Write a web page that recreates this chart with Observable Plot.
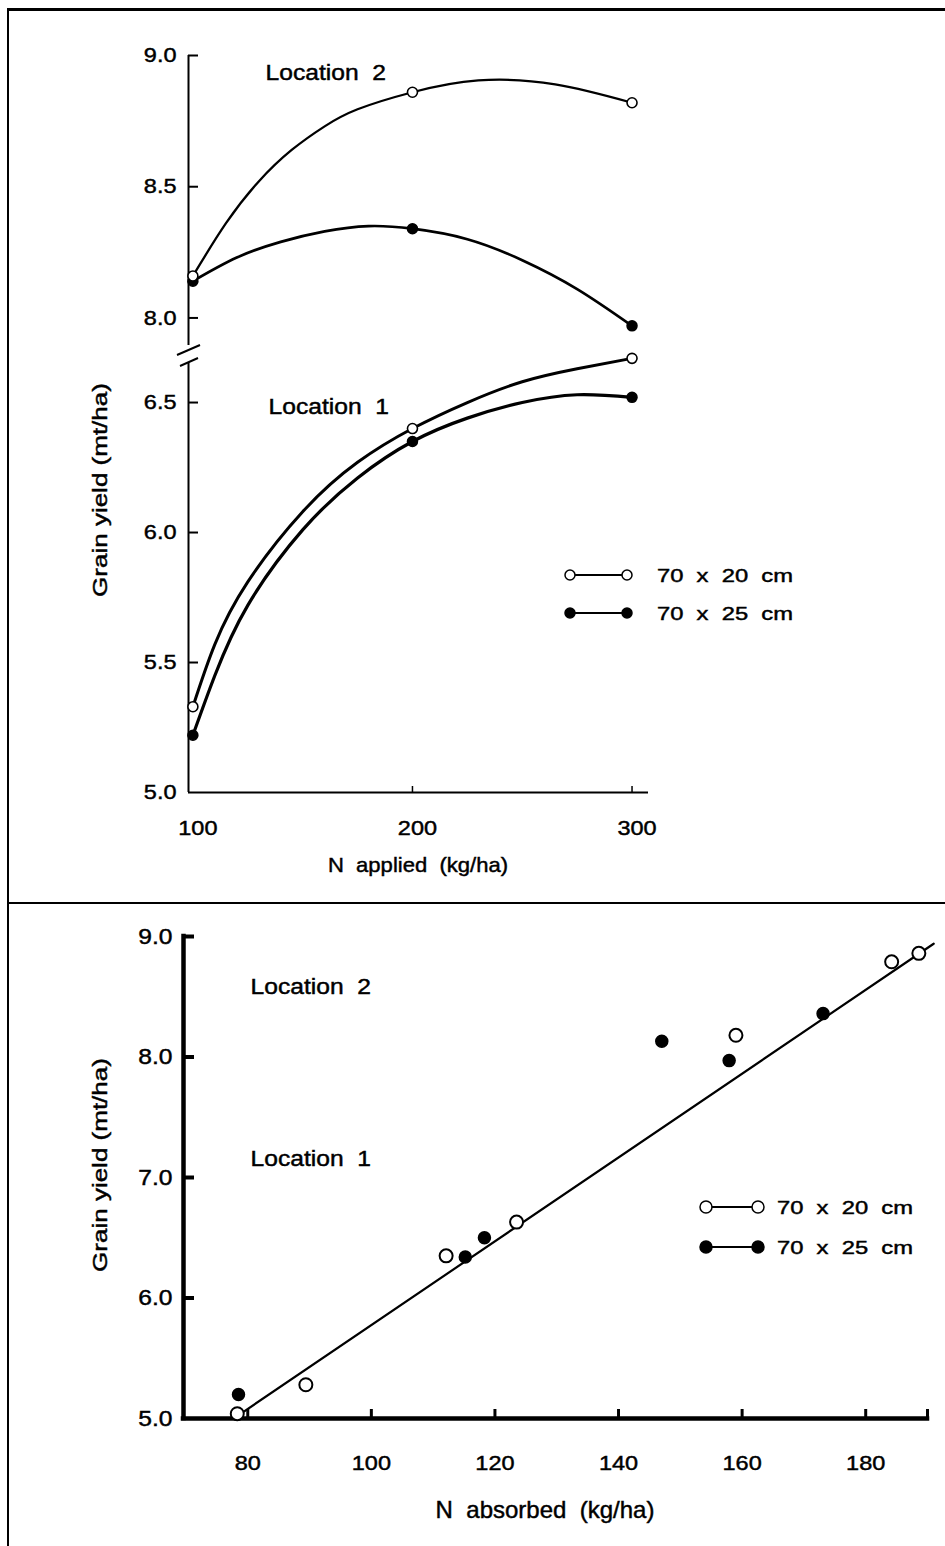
<!DOCTYPE html>
<html>
<head>
<meta charset="utf-8">
<script src="https://cdn.jsdelivr.net/npm/d3@7"></script>
<script src="https://cdn.jsdelivr.net/npm/@observablehq/plot@0.6"></script>
<style>
html,body{margin:0;padding:0;background:#fff;}
#root{position:relative;width:945px;height:1546px;overflow:hidden;background:#fff;font-family:"Liberation Sans",Arial,Helvetica,sans-serif;color:#000;}
.layer{position:absolute;left:0;top:0;}
.txt{position:absolute;white-space:pre;line-height:1;-webkit-text-stroke:0.45px #000;}
.hline{position:absolute;background:#000;}
</style>
</head>
<body>
<div id="root"></div>
<script>
// ---------- data ----------
// Top panel: N applied vs grain yield
const nApplied = [100, 200, 300];
const loc2Open = [8.16, 8.86, 8.82];     // Location 2, 70 x 20 cm
const loc2Filled = [8.14, 8.34, 7.97];   // Location 2, 70 x 25 cm
const loc1Open = [5.33, 6.40, 6.67];     // Location 1, 70 x 20 cm
const loc1Filled = [5.22, 6.35, 6.52];   // Location 1, 70 x 25 cm

// fitted curves
const loc2OpenCurveX = [100, 115, 130, 145, 160, 175, 200, 230, 265, 300];
const loc2OpenCurveY = [8.16, 8.36, 8.52, 8.64, 8.73, 8.795, 8.86, 8.905, 8.89, 8.82];
const loc2FilledCurveX = [100, 120, 140, 160, 180, 200, 225, 250, 275, 300];
const loc2FilledCurveY = [8.14, 8.23, 8.29, 8.33, 8.35, 8.34, 8.30, 8.22, 8.11, 7.97];
const loc1OpenCurveX = [100, 110, 125, 150, 175, 200, 225, 250, 275, 300];
const loc1OpenCurveY = [5.33, 5.57, 5.81, 6.08, 6.27, 6.40, 6.50, 6.58, 6.63, 6.67];
const loc1FilledCurveX = [100, 110, 125, 150, 175, 200, 225, 250, 275, 300];
const loc1FilledCurveY = [5.22, 5.45, 5.72, 6.01, 6.21, 6.35, 6.44, 6.50, 6.53, 6.52];

// Bottom panel: N absorbed vs grain yield
const absorbedOpenX = [188.6, 184.2, 159.0, 123.5, 112.1, 89.4, 78.3];
const absorbedOpenY = [8.86, 8.79, 8.18, 6.63, 6.35, 5.28, 5.04];
const absorbedFilledX = [173.1, 147.0, 157.9, 118.3, 115.2, 78.5];
const absorbedFilledY = [8.36, 8.13, 7.97, 6.50, 6.34, 5.20];
const fitLineX = [78, 191];
const fitLineY = [5.01, 8.94];

// axes / ticks / labels
const topXDomain = [98, 307.5];
const topXTicks = [100, 200, 300];
const topXTickMarks = [200, 300];
const upperYDomain = [7.895, 9.0];
const upperYTicks = [8.0, 8.5, 9.0];
const lowerYDomain = [5.0, 6.654];
const lowerYTicks = [5.0, 5.5, 6.0, 6.5];
const botXDomain = [69.6, 190];
const botXTicks = [80, 100, 120, 140, 160, 180];
const botYDomain = [5, 9];
const botYTicks = [5, 6, 7, 8, 9];
const seriesLabels = ["70\u00a0\u00a0x\u00a0\u00a020\u00a0\u00a0cm", "70\u00a0\u00a0x\u00a0\u00a025\u00a0\u00a0cm"];
const locationLabels = ["Location\u00a0\u00a01", "Location\u00a0\u00a02"];
const yTitle = "Grain yield (mt/ha)";
const topXTitle = "N\u00a0\u00a0applied\u00a0\u00a0(kg/ha)";
const botXTitle = "N\u00a0\u00a0absorbed\u00a0\u00a0(kg/ha)";

// ---------- helpers ----------
const W = 945, H = 1546;
const root = document.getElementById("root");
const FONT = '"Liberation Sans", Arial, Helvetica, sans-serif';
const fmt1 = d3.format(".1f");
const pts = (xs, ys) => xs.map((x, i) => ({x, y: ys[i]}));

function addSvg(svg, stretch) {
  svg.classList.add("layer");
  svg.querySelectorAll("text").forEach(t => {
    const tr = t.getAttribute("transform");
    t.setAttribute("transform", (tr ? tr + " " : "") + `scale(${stretch},1)`);
    t.setAttribute("stroke", "#000");
    t.setAttribute("stroke-width", "0.45");
  });
  root.appendChild(svg);
}
function addText(str, x, yMid, size, sx, anchor) {
  const d = document.createElement("div");
  d.className = "txt";
  d.textContent = str;
  d.style.fontSize = size + "px";
  d.style.left = x + "px";
  d.style.top = (yMid - size / 2) + "px";
  if (anchor === "middle") {
    d.style.transformOrigin = "50% 50%";
    d.style.transform = `translateX(-50%) scaleX(${sx})`;
  } else {
    d.style.transformOrigin = "0 50%";
    d.style.transform = `scaleX(${sx})`;
  }
  root.appendChild(d);
}
function addVText(str, cx, cy, size, sx) {
  const d = document.createElement("div");
  d.className = "txt";
  d.textContent = str;
  d.style.fontSize = size + "px";
  d.style.left = cx + "px";
  d.style.top = cy + "px";
  d.style.transformOrigin = "50% 50%";
  d.style.transform = `translate(-50%,-50%) rotate(-90deg) scaleX(${sx})`;
  root.appendChild(d);
}
function addLine(x, y, w, h) {
  const d = document.createElement("div");
  d.className = "hline";
  Object.assign(d.style, {left: x + "px", top: y + "px", width: w + "px", height: h + "px"});
  root.appendChild(d);
}
function addLegend(x0, x1, y, open, label, r, textX) {
  const ns = "http://www.w3.org/2000/svg";
  const s = document.createElementNS(ns, "svg");
  s.setAttribute("width", W); s.setAttribute("height", H);
  s.classList.add("layer");
  const l = document.createElementNS(ns, "line");
  Object.entries({x1: x0, x2: x1, y1: y, y2: y, stroke: "#000", "stroke-width": 2.2}).forEach(([k, v]) => l.setAttribute(k, v));
  s.appendChild(l);
  for (const cx of [x0, x1]) {
    const c = document.createElementNS(ns, "circle");
    Object.entries({cx, cy: y, r, fill: open ? "#fff" : "#000", stroke: "#000", "stroke-width": 1.5}).forEach(([k, v]) => c.setAttribute(k, v));
    s.appendChild(c);
  }
  root.appendChild(s);
  addText(label, textX, y, 19, 1.25, "start");
}

const baseStyle = `overflow:visible;background:transparent;font-family:${FONT};font-size:21px;color:#000;`;

// ---------- frame ----------
addLine(7, 8, W - 7, 3);
addLine(7, 8, 2, H - 8);
addLine(7, 902, W - 7, 2);

// ---------- top panel, upper part (Location 2) ----------
{
  const mL = 188, mR = 297, mT = 55, yBot = 345;
  const fw = W - mL - mR;
  const svg = Plot.plot({
    width: W, height: H, marginLeft: mL, marginRight: mR, marginTop: mT, marginBottom: H - yBot,
    x: {domain: topXDomain, axis: null},
    y: {domain: upperYDomain, axis: null},
    style: baseStyle,
    marks: [
      Plot.ruleX([topXDomain[0]], {stroke: "#000", strokeWidth: 2}),
      Plot.tickY(upperYTicks, {y: d => d, insetRight: fw - 10, stroke: "#000", strokeWidth: 2}),
      Plot.axisY(upperYTicks, {label: null, tickSize: 0, tickPadding: 12, tickFormat: fmt1, fontSize: 21}),
      Plot.line(pts(loc2OpenCurveX, loc2OpenCurveY), {x: "x", y: "y", curve: "natural", stroke: "#000", strokeWidth: 2.3}),
      Plot.line(pts(loc2FilledCurveX, loc2FilledCurveY), {x: "x", y: "y", curve: "natural", stroke: "#000", strokeWidth: 2.7}),
      Plot.dot(pts(nApplied, loc2Filled), {x: "x", y: "y", r: 5, fill: "#000", stroke: "#000"}),
      Plot.dot(pts(nApplied, loc2Open), {x: "x", y: "y", r: 5, fill: "#fff", stroke: "#000", strokeWidth: 1.6}),
      Plot.text([locationLabels[1]], {frameAnchor: "top-left", dx: 77, dy: 17, textAnchor: "start", lineAnchor: "middle", fontSize: 22})
    ]
  });
  addSvg(svg, 1.12);
}

// ---------- top panel, lower part (Location 1) ----------
{
  const mL = 188, mR = 297, mT = 362, yBot = 792;
  const fw = W - mL - mR, fh = yBot - mT;
  const svg = Plot.plot({
    width: W, height: H, marginLeft: mL, marginRight: mR, marginTop: mT, marginBottom: H - yBot,
    x: {domain: topXDomain, axis: null},
    y: {domain: lowerYDomain, axis: null},
    style: baseStyle,
    marks: [
      Plot.ruleX([topXDomain[0]], {stroke: "#000", strokeWidth: 2}),
      Plot.ruleY([lowerYDomain[0]], {stroke: "#000", strokeWidth: 2}),
      Plot.tickY(lowerYTicks.slice(1), {y: d => d, insetRight: fw - 10, stroke: "#000", strokeWidth: 2}),
      Plot.tickX(topXTickMarks, {x: d => d, insetTop: fh - 6, stroke: "#000", strokeWidth: 1.5}),
      Plot.axisY(lowerYTicks, {label: null, tickSize: 0, tickPadding: 12, tickFormat: fmt1, fontSize: 21}),
      Plot.axisX(topXTicks, {label: null, tickSize: 0, tickPadding: 28, dx: 5, fontSize: 21}),
      Plot.line(pts(loc1OpenCurveX, loc1OpenCurveY), {x: "x", y: "y", curve: "natural", stroke: "#000", strokeWidth: 3}),
      Plot.line(pts(loc1FilledCurveX, loc1FilledCurveY), {x: "x", y: "y", curve: "natural", stroke: "#000", strokeWidth: 3.2}),
      Plot.dot(pts(nApplied, loc1Filled), {x: "x", y: "y", r: 5, fill: "#000", stroke: "#000"}),
      Plot.dot(pts(nApplied, loc1Open), {x: "x", y: "y", r: 5, fill: "#fff", stroke: "#000", strokeWidth: 1.6}),
      Plot.text([locationLabels[0]], {frameAnchor: "top-left", dx: 80, dy: 44, textAnchor: "start", lineAnchor: "middle", fontSize: 22})
    ]
  });
  addSvg(svg, 1.12);
}

// axis break marks (decorative)
{
  const ns = "http://www.w3.org/2000/svg";
  const s = document.createElementNS(ns, "svg");
  s.setAttribute("width", W); s.setAttribute("height", H);
  s.classList.add("layer");
  [[177, 355, 200, 345], [180, 366, 198, 358]].forEach(([x1, y1, x2, y2]) => {
    const l = document.createElementNS(ns, "line");
    Object.entries({x1, y1, x2, y2, stroke: "#000", "stroke-width": 2}).forEach(([k, v]) => l.setAttribute(k, v));
    s.appendChild(l);
  });
  root.appendChild(s);
}

addLegend(570, 627, 575, true, seriesLabels[0], 5, 657);
addLegend(570, 627, 613, false, seriesLabels[1], 5, 657);
addVText(yTitle, 100, 490, 20, 1.3);
addText(topXTitle, 418, 864, 21, 1.05, "middle");

// ---------- bottom panel ----------
{
  const mL = 183, mR = 18, mT = 936, yBot = 1418;
  const fw = W - mL - mR, fh = yBot - mT;
  const svg = Plot.plot({
    width: W, height: H, marginLeft: mL, marginRight: mR, marginTop: mT, marginBottom: H - yBot,
    x: {domain: botXDomain, axis: null},
    y: {domain: botYDomain, axis: null},
    style: baseStyle,
    marks: [
      Plot.ruleX([botXDomain[0]], {stroke: "#000", strokeWidth: 4.5, strokeLinecap: "square"}),
      Plot.ruleY([botYDomain[0]], {stroke: "#000", strokeWidth: 4.5, strokeLinecap: "square"}),
      Plot.tickY(botYTicks.slice(1), {y: d => d, insetRight: fw - 11, stroke: "#000", strokeWidth: 4}),
      Plot.tickX([...botXTicks, botXDomain[1]], {x: d => d, insetTop: fh - 9, stroke: "#000", strokeWidth: 3}),
      Plot.axisY(botYTicks, {label: null, tickSize: 0, tickPadding: 11, tickFormat: fmt1, fontSize: 22}),
      Plot.axisX(botXTicks, {label: null, tickSize: 0, tickPadding: 37, fontSize: 21}),
      Plot.line(pts(fitLineX, fitLineY), {x: "x", y: "y", stroke: "#000", strokeWidth: 2.2}),
      Plot.dot(pts(absorbedFilledX, absorbedFilledY), {x: "x", y: "y", r: 6, fill: "#000", stroke: "#000"}),
      Plot.dot(pts(absorbedOpenX, absorbedOpenY), {x: "x", y: "y", r: 6.5, fill: "#fff", stroke: "#000", strokeWidth: 2}),
      Plot.text([locationLabels[1]], {frameAnchor: "top-left", dx: 67, dy: 50, textAnchor: "start", lineAnchor: "middle", fontSize: 22}),
      Plot.text([locationLabels[0]], {frameAnchor: "top-left", dx: 67, dy: 222, textAnchor: "start", lineAnchor: "middle", fontSize: 22})
    ]
  });
  addSvg(svg, 1.12);
}
addLegend(706, 758, 1207, true, seriesLabels[0], 6, 777);
addLegend(706, 758, 1247, false, seriesLabels[1], 6, 777);
addVText(yTitle, 100, 1165, 20, 1.3);
addText(botXTitle, 545, 1510, 24, 1.0, "middle");
</script>
</body>
</html>
